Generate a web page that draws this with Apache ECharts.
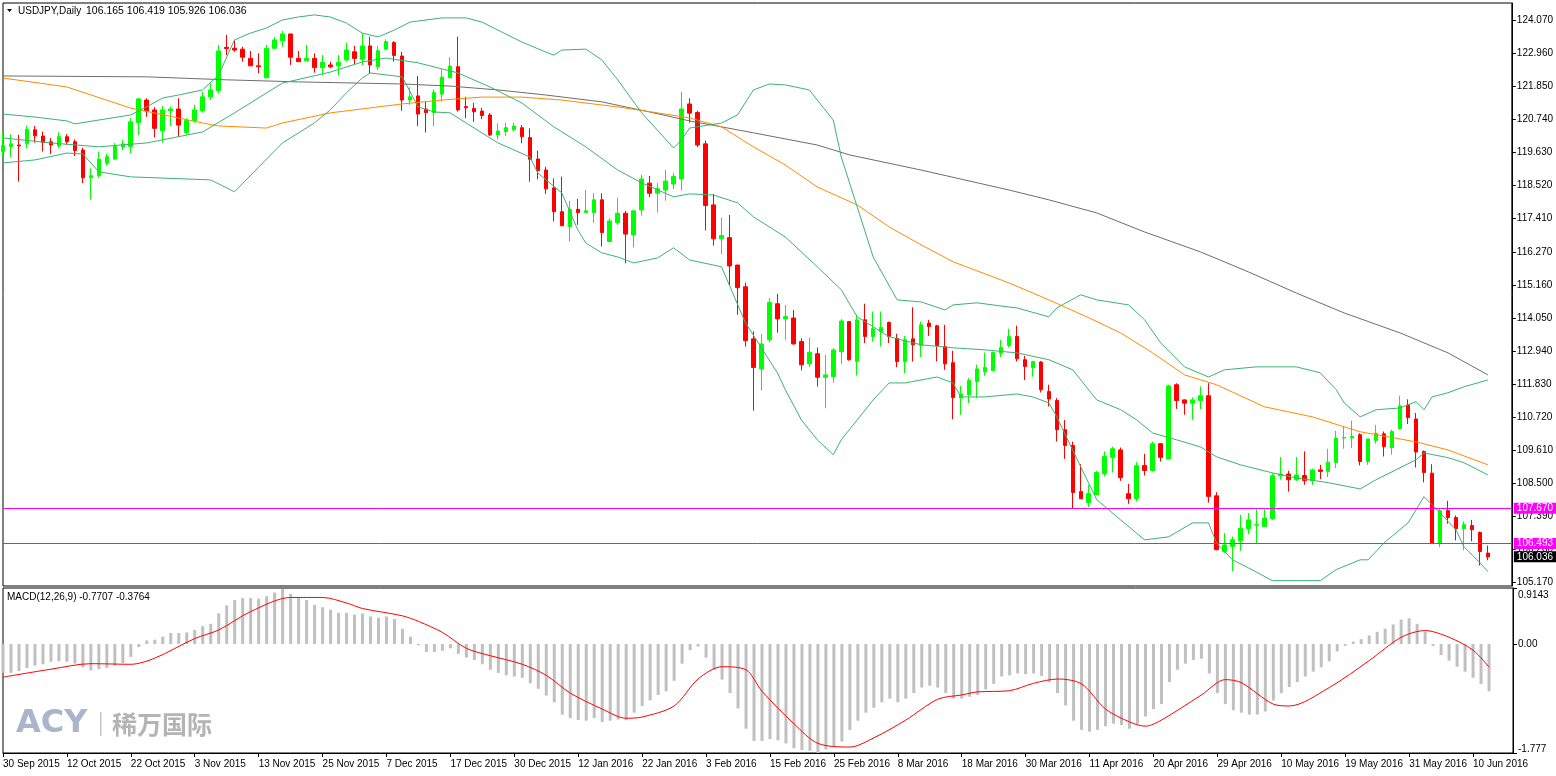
<!DOCTYPE html>
<html><head><meta charset="utf-8">
<script src="https://cdn.jsdelivr.net/npm/echarts@6/dist/echarts.min.js"></script>
<style>html,body{margin:0;padding:0;background:#fff}#c{width:1556px;height:776px}</style>
</head><body><div id="c"></div>
<script>
// ---------- data ----------
const tickLabels = ['30 Sep 2015','12 Oct 2015','22 Oct 2015','3 Nov 2015','13 Nov 2015','25 Nov 2015','7 Dec 2015','17 Dec 2015','30 Dec 2015','12 Jan 2016','22 Jan 2016','3 Feb 2016','15 Feb 2016','25 Feb 2016','8 Mar 2016','18 Mar 2016','30 Mar 2016','11 Apr 2016','20 Apr 2016','29 Apr 2016','10 May 2016','19 May 2016','31 May 2016','10 Jun 2016'];
const priceTicks = [124.070,122.960,121.850,120.740,119.630,118.520,117.410,116.270,115.160,114.050,112.940,111.830,110.720,109.610,108.500,107.390,106.280,105.170];
const macdTicks = [0.9143, 0, -1.777];
const macdTickLabels = ['0.9143','0.00','-1.777'];
const levels = [107.670, 106.493];
const lastClose = 106.036;
const header = {symbol:'USDJPY,Daily', ohlc:'106.165 106.419 105.926 106.036'};
const macdHeader = 'MACD(12,26,9) -0.7707 -0.3764';

// [open, close, low, high]
const candles = [
[119.65,119.85,119.48,120.29],[119.82,119.91,119.45,120.23],[119.87,119.84,118.64,120.21],[119.91,120.40,119.76,120.52],[120.38,120.18,119.95,120.51],
[120.17,119.95,119.65,120.32],[119.98,119.87,119.57,120.10],[119.84,120.15,119.76,120.30],[120.15,119.98,119.87,120.24],[119.98,119.68,119.50,120.06],
[119.70,118.77,118.59,119.78],[118.77,118.84,118.03,119.09],[118.84,119.39,118.77,119.65],[119.26,119.48,119.18,119.57],[119.40,119.82,119.37,119.93],
[119.80,119.91,119.70,120.04],[119.82,120.65,119.59,120.77],[120.63,121.42,120.21,121.46],[121.38,121.02,120.82,121.44],[121.05,120.43,120.13,121.14],
[120.35,121.05,119.95,121.18],[121.02,121.08,120.51,121.16],[121.08,120.54,120.15,121.44],[120.29,120.69,120.21,120.77],[120.69,121.05,120.62,121.22],
[121.02,121.49,120.96,121.66],[121.49,121.72,121.38,121.94],[121.70,123.03,121.61,123.23],[123.15,123.11,122.89,123.57],[123.12,123.06,123.00,123.40],
[123.09,122.82,122.67,123.17],[122.78,122.53,122.53,123.03],[122.53,122.50,122.28,122.95],[122.13,123.12,122.13,123.23],[123.12,123.40,123.09,123.49],
[123.37,123.60,123.17,123.70],[123.60,122.82,122.56,123.60],[122.78,122.67,122.67,123.03],[122.70,122.78,122.70,123.23],[122.78,122.47,122.30,122.95],
[122.47,122.65,122.22,122.89],[122.56,122.50,122.45,122.67],[122.53,122.65,122.22,122.89],[122.73,123.06,122.67,123.31],[123.00,122.78,122.59,123.20],
[122.75,123.20,122.56,123.62],[123.20,122.56,122.26,123.51],[122.50,123.04,122.39,123.20],[123.09,123.34,123.06,123.42],[123.31,122.88,122.67,123.36],
[122.86,121.38,121.02,123.00],[121.38,121.49,121.22,121.81],[121.52,120.91,120.51,122.19],[121.08,120.96,120.29,121.33],[120.96,121.63,120.51,121.74],
[121.58,122.15,121.33,122.41],[122.13,122.52,122.11,122.82],[122.50,121.05,120.99,123.51],[121.16,121.12,120.77,121.49],[121.10,120.99,120.65,121.29],
[121.01,120.86,120.74,121.12],[120.88,120.21,120.17,120.94],[120.21,120.34,120.07,120.60],[120.32,120.45,120.17,120.62],[120.38,120.51,120.32,120.62],
[120.45,120.15,119.93,120.54],[120.12,119.39,118.64,120.43],[119.40,119.01,118.72,119.68],[119.03,118.40,118.23,119.14],[118.43,117.63,117.30,118.75],
[117.63,117.16,117.16,118.81],[117.13,117.71,116.63,117.99],[117.71,117.60,117.19,118.06],[117.60,117.66,117.58,118.36],[117.60,118.03,117.26,118.25],
[118.03,116.93,116.46,118.25],[116.63,117.32,116.63,117.41],[117.26,117.58,117.19,118.10],[117.58,116.88,115.90,117.66],[116.85,117.66,116.43,117.69],
[117.69,118.73,117.50,118.87],[118.59,118.25,118.12,118.83],[118.25,118.40,117.60,118.59],[118.36,118.66,118.00,119.03],[118.56,118.81,118.39,118.94],
[118.73,121.08,118.34,121.66],[121.25,120.94,120.62,121.44],[120.96,119.87,119.80,121.02],[119.91,117.84,117.00,120.02],[117.86,116.72,116.49,118.23],
[116.72,116.83,116.21,117.43],[116.76,115.81,115.14,117.52],[115.84,115.08,114.17,115.84],[115.11,113.30,113.10,115.25],[113.36,112.40,110.95,113.61],
[112.35,113.19,111.62,113.53],[113.33,114.58,113.24,114.73],[114.54,114.03,113.57,114.87],[114.03,114.11,113.33,114.50],[114.06,113.19,113.16,114.33],
[113.27,112.49,112.30,113.38],[112.52,112.91,112.41,113.40],[112.86,112.07,111.76,113.07],[112.07,112.15,111.03,112.82],[112.09,112.99,111.89,113.05],
[112.93,113.96,112.52,114.02],[113.94,112.66,112.63,113.96],[112.60,114.00,112.13,114.17],[114.00,113.44,113.22,114.54],[113.44,113.70,113.27,114.28],
[113.61,113.74,113.10,114.28],[113.91,113.44,113.22,113.94],[113.38,112.60,112.41,113.53],[112.60,113.33,112.21,113.46],[113.36,113.16,112.60,114.42],
[113.14,113.83,112.75,113.94],[113.89,113.77,113.46,114.00],[113.80,113.14,112.60,113.83],[113.10,112.52,112.32,113.83],[112.56,111.39,110.66,112.96],
[111.37,111.51,110.81,111.78],[111.48,111.96,111.20,112.04],[111.93,112.35,111.37,112.49],[112.26,112.40,112.12,112.90],[112.29,112.90,112.29,112.93],
[112.88,113.07,112.75,113.33],[113.14,113.44,113.07,113.70],[113.44,112.69,112.60,113.80],[112.66,112.43,111.98,112.79],[112.40,112.60,112.09,112.62],
[112.58,111.65,111.56,112.62],[111.59,111.34,111.09,111.82],[111.29,110.31,109.91,111.37],[110.31,109.78,109.33,110.64],[109.78,108.20,107.68,109.91],
[108.23,107.99,107.99,109.15],[107.86,108.16,107.71,108.46],[108.12,108.87,108.12,108.93],[108.83,109.41,108.74,109.58],[109.38,109.67,108.87,109.74],
[109.63,108.70,108.59,109.71],[108.16,107.99,107.82,108.49],[107.99,109.10,107.90,109.22],[109.11,108.94,108.77,109.50],[108.94,109.84,108.90,109.91],
[109.84,109.38,109.24,109.84],[109.33,111.78,109.30,111.82],[111.82,111.29,111.01,111.87],[111.31,111.20,110.81,111.33],[111.20,111.31,110.64,111.40],
[111.29,111.45,111.00,111.76],[111.45,108.07,107.86,111.87],[108.09,106.28,106.26,108.21],[106.22,106.44,106.17,106.84],[106.39,106.61,105.55,106.72],
[106.58,107.00,106.24,107.45],[106.98,107.28,106.80,107.51],[107.11,107.12,106.48,107.64],[107.06,107.34,107.06,107.64],[107.32,108.76,107.28,108.85],
[108.76,108.82,108.63,109.39],[108.82,108.63,108.23,108.93],[108.63,108.79,108.59,109.39],[108.77,108.60,108.46,109.58],[108.60,108.96,108.46,109.00],
[108.96,108.91,108.65,109.13],[108.91,109.22,108.72,109.67],[109.21,110.03,109.02,110.27],[110.03,110.05,109.67,110.42],[110.03,110.08,109.69,110.61],
[110.14,109.24,109.11,110.19],[109.24,110.00,109.13,110.00],[109.95,110.19,109.84,110.47],[110.17,109.74,109.41,110.25],[109.71,110.25,109.47,110.31],
[110.34,111.11,110.34,111.45],[111.14,110.72,110.50,111.33],[110.67,109.56,109.04,110.87],[109.58,108.87,108.54,109.61],[108.85,106.50,106.50,109.15],
[106.50,107.59,106.37,107.68],[107.59,107.36,107.15,107.92],[107.36,106.98,106.59,107.43],[106.98,107.12,106.26,107.23],[107.09,106.95,106.56,107.28],
[106.86,106.22,105.75,106.89],[106.165,106.036,105.926,106.419]
];

// indicator lines: [bar index, value]
const bbUpper = [[0,120.91],[4,120.81],[8,120.68],[9,120.58],[12,120.71],[16,120.88],[18,121.15],[20,121.45],[22,121.55],[25,121.72],[27,122.22],[29,123.40],[31,123.63],[33,123.80],[35,124.07],[37,124.17],[39,124.24],[41,124.17],[43,123.97],[45,123.63],[47,123.50],[49,123.73],[51,124.00],[55,124.14],[58,124.14],[60,124.00],[62,123.73],[65,123.33],[68,122.99],[69,122.89],[70,123.06],[73,123.09],[75,122.73],[77,122.06],[80,120.95],[84,119.77],[85,120.04],[86,120.44],[90,120.61],[92,120.88],[94,121.72],[96,121.92],[98,121.89],[101,121.72],[102,121.38],[104,120.71],[105,119.47],[107,117.79],[109,116.11],[112,114.67],[115,114.60],[118,114.33],[119,114.50],[122,114.57],[126,114.43],[127,114.40],[131,114.10],[132,114.40],[135,114.84],[137,114.67],[141,114.50],[143,114.00],[145,113.23],[148,112.42],[151,112.08],[153,112.32],[157,112.42],[162,112.42],[165,112.22],[167,111.65],[168,111.21],[170,110.74],[172,110.98],[175,111.04],[177,111.25],[178,110.98],[179,111.41],[181,111.55],[183,111.75],[186,111.98]];
const bbMiddle = [[0,120.11],[6,119.94],[12,119.81],[18,119.94],[25,120.31],[29,120.95],[35,121.95],[41,122.32],[45,122.66],[48,122.79],[52,122.63],[57,122.29],[61,121.82],[65,121.28],[69,120.48],[73,119.81],[77,119.03],[80,118.60],[84,118.13],[86,118.23],[89,118.19],[92,117.93],[94,117.46],[98,116.78],[102,115.78],[105,115.01],[107,114.10],[111,113.43],[115,113.16],[119,113.06],[123,112.99],[127,112.89],[131,112.66],[134,112.32],[137,111.31],[140,110.98],[142,110.64],[144,110.20],[147,109.97],[150,109.73],[152,109.40],[155,109.13],[159,108.86],[162,108.69],[166,108.53],[170,108.32],[172,108.63],[177,109.30],[178,109.53],[181,109.37],[183,109.20],[186,108.79]];
const bbLower = [[0,119.27],[4,119.37],[8,119.60],[10,119.57],[12,118.97],[16,118.80],[20,118.76],[26,118.70],[29,118.30],[35,119.94],[39,120.61],[41,121.05],[43,121.62],[45,122.12],[46,122.29],[50,122.16],[52,121.15],[54,120.98],[56,120.95],[62,119.94],[66,119.47],[67,118.93],[70,118.26],[72,117.02],[73,116.58],[75,116.25],[77,116.11],[79,115.91],[82,116.08],[84,116.42],[86,116.01],[90,115.78],[93,113.90],[97,112.22],[98,111.65],[100,110.64],[102,109.97],[104,109.47],[105,109.97],[107,110.64],[109,111.31],[111,111.88],[113,111.88],[117,112.08],[119,111.88],[120,111.41],[123,111.41],[127,111.51],[129,111.41],[131,111.21],[132,110.74],[135,109.06],[137,107.96],[140,107.28],[143,106.61],[146,106.71],[149,107.18],[151,107.18],[152,106.51],[154,105.94],[156,105.67],[159,105.24],[162,105.24],[165,105.24],[167,105.61],[170,105.94],[171,105.94],[173,106.51],[176,107.18],[178,108.06],[180,107.52],[182,106.95],[183,106.38],[185,105.84],[186,105.54]];
const maGray = [[0,122.19],[18,122.16],[28,122.06],[37,121.99],[50,121.92],[56,121.85],[62,121.72],[68,121.55],[75,121.32],[81,120.98],[86,120.68],[94,120.28],[102,119.87],[106,119.54],[115,119.03],[126,118.36],[131,118.03],[137,117.59],[143,116.95],[150,116.28],[156,115.61],[162,114.90],[168,114.23],[175,113.56],[181,112.89],[186,112.15]];
const maOrange = [[0,122.12],[8,121.82],[16,121.11],[25,120.61],[27,120.51],[33,120.44],[35,120.61],[41,120.95],[50,121.25],[55,121.38],[60,121.48],[65,121.48],[70,121.38],[73,121.28],[77,121.15],[82,120.95],[86,120.78],[90,120.48],[94,119.81],[98,119.20],[102,118.46],[107,117.86],[111,117.12],[115,116.52],[119,115.95],[126,115.24],[131,114.67],[136,114.07],[140,113.56],[144,112.89],[148,112.15],[152,111.82],[158,111.08],[164,110.74],[170,110.24],[177,109.90],[181,109.63],[186,109.13]];

const macd = [
-0.47,-0.47,-0.44,-0.39,-0.35,-0.33,-0.29,-0.28,-0.29,-0.32,
-0.38,-0.43,-0.41,-0.39,-0.35,-0.31,-0.21,-0.05,0.06,0.07,
0.12,0.18,0.18,0.19,0.23,0.29,0.33,0.50,0.63,0.72,
0.75,0.75,0.74,0.78,0.84,0.90,0.82,0.76,0.72,0.64,
0.60,0.56,0.51,0.51,0.48,0.50,0.45,0.43,0.45,0.41,
0.25,0.12,-0.02,-0.13,-0.13,-0.11,-0.07,-0.16,-0.22,-0.26,
-0.33,-0.42,-0.47,-0.51,-0.53,-0.55,-0.64,-0.73,-0.84,-0.95,
-1.15,-1.21,-1.24,-1.25,-1.21,-1.27,-1.25,-1.23,-1.24,-1.12,
-1.01,-0.92,-0.83,-0.77,-0.60,-0.32,-0.10,-0.04,-0.22,-0.42,
-0.58,-0.80,-1.05,-1.38,-1.58,-1.58,-1.55,-1.57,-1.62,-1.70,
-1.73,-1.74,-1.777,-1.72,-1.68,-1.59,-1.40,-1.25,-1.12,-1.04,
-0.95,-0.89,-0.95,-0.89,-0.80,-0.71,-0.68,-0.71,-0.80,-0.89,
-0.89,-0.86,-0.83,-0.74,-0.65,-0.53,-0.51,-0.48,-0.49,-0.48,
-0.52,-0.62,-0.80,-1.00,-1.25,-1.40,-1.43,-1.40,-1.34,-1.30,
-1.32,-1.38,-1.30,-1.18,-1.06,-0.98,-0.62,-0.42,-0.32,-0.26,
-0.24,-0.48,-0.80,-0.98,-1.08,-1.12,-1.15,-1.15,-1.10,-0.92,
-0.80,-0.70,-0.62,-0.53,-0.45,-0.38,-0.28,-0.12,-0.03,0.04,
0.08,0.14,0.20,0.25,0.32,0.40,0.42,0.33,0.20,-0.03,
-0.18,-0.27,-0.37,-0.45,-0.55,-0.65,-0.7707
];
const macdSignal = [[0,-0.54],[6,-0.41],[11,-0.32],[16,-0.33],[19,-0.23],[24,0.09],[27,0.23],[31,0.53],[36,0.76],[40,0.76],[43,0.67],[45,0.58],[50,0.46],[52,0.37],[55,0.19],[58,-0.07],[61,-0.19],[65,-0.33],[68,-0.51],[71,-0.80],[75,-1.06],[78,-1.21],[80,-1.19],[84,-1.01],[87,-0.57],[90,-0.37],[93,-0.42],[95,-0.77],[99,-1.30],[102,-1.62],[106,-1.68],[109,-1.53],[113,-1.24],[117,-0.90],[120,-0.83],[122,-0.78],[126,-0.76],[129,-0.64],[132,-0.57],[135,-0.65],[138,-1.06],[141,-1.27],[143,-1.34],[145,-1.24],[150,-0.83],[153,-0.58],[155,-0.63],[159,-0.98],[161,-1.01],[166,-0.71],[171,-0.27],[175,0.11],[178,0.22],[181,0.11],[184,-0.10],[186,-0.3764]];

// ---------- build ----------
const PAD = 3;
const N = candles.length;
function buildDates(n){
  const M=['Jan','Feb','Mar','Apr','May','Jun','Jul','Aug','Sep','Oct','Nov','Dec'];
  const out=[]; const d=new Date(Date.UTC(2015,8,30));
  while(out.length<n){
    const wd=d.getUTCDay(), md=(d.getUTCMonth()+1)*100+d.getUTCDate();
    if(wd!==0&&wd!==6&&md!==1225&&md!==101) out.push(d.getUTCDate()+' '+M[d.getUTCMonth()]+' '+d.getUTCFullYear());
    d.setUTCDate(d.getUTCDate()+1);
  }
  return out;
}
const categories = buildDates(N+PAD);
function sparse(pairs){ const a=new Array(N).fill(null); pairs.forEach(p=>{a[p[0]]=p[1];}); return a; }

const FONT = '"Liberation Sans", Arial, sans-serif';
const chart = echarts.init(document.getElementById('c'), null, {renderer:'canvas'});
const lineS = (name, pairs, color) => ({
  name, type:'line', xAxisIndex:0, yAxisIndex:0, data:sparse(pairs), connectNulls:true,
  showSymbol:false, symbol:'none', silent:true, z:3, animation:false,
  lineStyle:{color, width:1}
});
const tag = (v, bg, visibleLine) => ({
  yAxis:v,
  lineStyle:{color: visibleLine ? '#ff00ff' : 'rgba(0,0,0,0)', width:1, type:'solid'},
  label:{show:true, position:'end', distance:2, formatter: v.toFixed(3), color:'#fff',
    backgroundColor:bg, padding:[1,3,0,3], fontSize:10, fontFamily:FONT}
});

chart.setOption({
  animation:false,
  backgroundColor:'#ffffff',
  grid:[
    {left:3, top:3, width:1510, height:583, show:true, borderColor:'#000', borderWidth:1, backgroundColor:'transparent'},
    {left:3, top:588, width:1510, height:165, show:true, borderColor:'#000', borderWidth:1, backgroundColor:'transparent'}
  ],
  xAxis:[
    {type:'category', gridIndex:0, data:categories, boundaryGap:false,
     axisLine:{show:false}, axisTick:{show:false}, axisLabel:{show:false}, splitLine:{show:false}},
    {type:'category', gridIndex:1, data:categories, boundaryGap:false, position:'bottom',
     axisLine:{show:true, onZero:false, lineStyle:{color:'#000'}},
     axisTick:{show:true, length:4, interval:(i)=>i%8===0, lineStyle:{color:'#000'}},
     axisLabel:{show:true, interval:(i)=>i%8===0, formatter:(v,i)=>tickLabels[i/8]||'', align:'left',
       color:'#000', fontSize:10, fontFamily:FONT, margin:6},
     splitLine:{show:false}}
  ],
  yAxis:[
    {type:'value', gridIndex:0, position:'right', min:105.06, max:124.64,
     axisLine:{show:true, lineStyle:{color:'#000'}},
     axisTick:{show:true, length:4, customValues:priceTicks, lineStyle:{color:'#000'}},
     axisLabel:{show:true, customValues:priceTicks, formatter:v=>v.toFixed(3), color:'#000', fontSize:10, fontFamily:FONT, margin:5},
     splitLine:{show:false}},
    {type:'value', gridIndex:1, position:'right', min:-1.777, max:0.9143,
     axisLine:{show:true, lineStyle:{color:'#000'}},
     axisTick:{show:true, length:4, customValues:macdTicks, lineStyle:{color:'#000'}},
     axisLabel:{show:true, customValues:macdTicks, showMinLabel:true, showMaxLabel:true,
       formatter:v=>{const k=macdTicks.indexOf(v); const t=macdTickLabels[k]; return k===0?'{t|'+t+'}':(k===2?'{b|'+t+'}':t);},
       rich:{t:{padding:[14,0,0,0], fontSize:10, fontFamily:FONT, color:'#000'}, b:{padding:[0,0,8,0], fontSize:10, fontFamily:FONT, color:'#000'}},
       color:'#000', fontSize:10, fontFamily:FONT, margin:5},
     splitLine:{show:false}}
  ],
  series:[
    {name:'USDJPY', type:'candlestick', xAxisIndex:0, yAxisIndex:0, data:candles, barWidth:4, z:2, silent:true,
     itemStyle:{color:'#00ff00', color0:'#ff0000', borderColor:'#00ff00', borderColor0:'#ff0000', borderWidth:1},
     markLine:{symbol:'none', silent:true, animation:false, data:[tag(levels[0],'#ff00ff',true), tag(levels[1],'#ff00ff',true), tag(lastClose,'#000000',false)]}},
    lineS('maGray', maGray, '#6e6e6e'),
    lineS('maOrange', maOrange, '#ff8c00'),
    lineS('bbUpper', bbUpper, '#3cb371'),
    lineS('bbMiddle', bbMiddle, '#3cb371'),
    lineS('bbLower', bbLower, '#3cb371'),
    {name:'MACD', type:'bar', xAxisIndex:1, yAxisIndex:1, data:macd, barWidth:3, silent:true,
     itemStyle:{color:'#c0c0c0'}},
    {name:'Signal', type:'line', xAxisIndex:1, yAxisIndex:1, data:sparse(macdSignal), connectNulls:true,
     showSymbol:false, symbol:'none', smooth:0.3, silent:true, z:3, lineStyle:{color:'#ff0000', width:1}}
  ],
  graphic:[
    {type:'polygon', shape:{points:[[7,9],[12,9],[9.5,12]]}, style:{fill:'#000'}},
    {type:'text', x:18, y:11, style:{text:header.symbol, font:'10px '+FONT, fill:'#000', verticalAlign:'middle'}},
    {type:'text', x:86, y:11, style:{text:header.ohlc, font:'10.5px '+FONT, fill:'#000', verticalAlign:'middle'}},
    {type:'text', x:7, y:597, style:{text:macdHeader, font:'10px '+FONT, fill:'#000', verticalAlign:'middle'}},
    {type:'text', x:16, y:724, z:0, style:{text:'ACY', font:'bold 32px "DejaVu Sans"', fill:'#a9b5ca', verticalAlign:'middle'}},
    {type:'rect', x:100, y:712, z:0, shape:{width:1.5, height:24}, style:{fill:'#c4c4c4'}},
    {type:'text', x:112, y:724, z:0, style:{text:'稀万国际', font:'bold 25px "Noto Sans CJK SC"', fill:'#b4b4b4', verticalAlign:'middle'}}
  ]
});
</script></body></html>
